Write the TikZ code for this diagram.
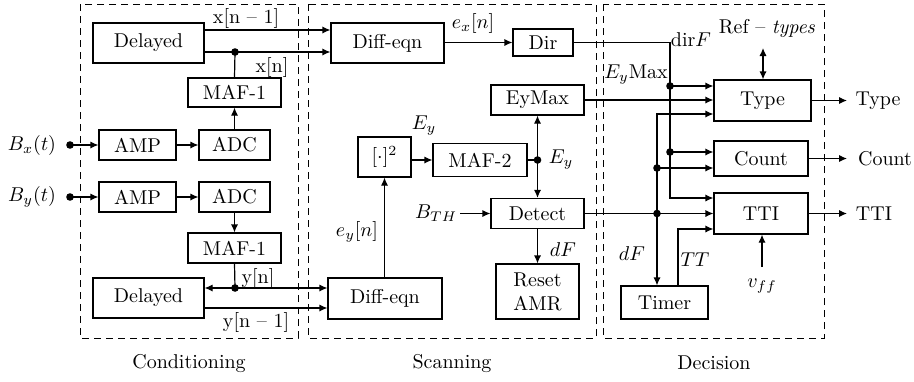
\documentclass[tikz,border=0pt]{standalone}
\usetikzlibrary{arrows.meta}
\begin{document}
\begin{tikzpicture}[x=0.5pt,y=-0.5pt,line width=0.6pt,
  font=\fontsize{10}{12}\selectfont,
  blk/.style={draw, inner sep=1pt, align=center},
  sz/.style 2 args={minimum width=#1*0.5pt, minimum height=#2*0.5pt},
  arr/.style={-{Latex[length=4pt,width=3.6pt]}},
  dbl/.style={{Latex[length=4pt,width=3.6pt]}-{Latex[length=4pt,width=3.6pt]}},
  dot/.style={circle, fill, inner sep=0pt, minimum size=3.8pt},
  frame/.style={draw, dash pattern=on 3.5pt off 2.5pt, line width=0.5pt},
  lbl/.style={inner sep=0pt}]
\useasboundingbox (0,0) rectangle (914,381);

% stage frames
\draw[frame] (80,4) rectangle (298,338);
\draw[frame] (308,4) rectangle (596,338);
\draw[frame] (603,4) rectangle (824,338);
\node[lbl] (tcond) at (189,363) {Conditioning};
\node[lbl] (tscan) at (452,363) {Scanning};
\node[lbl] (tdec) at (714,363) {Decision};

% conditioning blocks
\node[blk,sz={111}{40}] (del1) at (148.5,43) {Delayed};
\node[blk,sz={93}{29}] (maf1a) at (234.5,92.5) {MAF-1};
\node[blk,sz={77}{30}] (amp1) at (137.5,145) {AMP};
\node[blk,sz={71}{30}] (adc1) at (234.5,145) {ADC};
\node[blk,sz={77}{30}] (amp2) at (137.5,197) {AMP};
\node[blk,sz={71}{30}] (adc2) at (234.5,197) {ADC};
\node[blk,sz={93}{30}] (maf1b) at (234.5,248) {MAF-1};
\node[blk,sz={111}{40}] (del2) at (148.5,298) {Delayed};

% scanning blocks
\node[blk,sz={113}{40}] (diff1) at (387.5,43) {Diff-eqn};
\node[blk,sz={60}{27}] (dir) at (543,42.5) {Dir};
\node[blk,sz={93}{30}] (eymax) at (537.5,100) {EyMax};
\node[blk,sz={53}{40}] (sq) at (384.5,157) {$[\cdot]^2$};
\node[blk,sz={94}{33}] (maf2) at (480,160) {MAF-2};
\node[blk,sz={93}{30}] (detect) at (537.5,213.5) {Detect};
\node[blk,sz={83}{55}] (reset) at (537.5,291.5) {Reset\\AMR};
\node[blk,sz={114}{41}] (diff2) at (385,298.5) {Diff-eqn};

% decision blocks
\node[blk,sz={97}{41}] (type) at (762.5,100.5) {Type};
\node[blk,sz={94}{35}] (count) at (761,158.5) {Count};
\node[blk,sz={94}{41}] (tti) at (761,213.5) {TTI};
\node[blk,sz={87}{33}] (timer) at (664.5,302.5) {Timer};

% junction dots
\node[dot] (jbx) at (70,145) {};
\node[dot] (jby) at (70,197) {};
\node[dot] (jx) at (235,52) {};
\node[dot] (jy) at (235,288) {};
\node[dot] (je) at (537.5,160) {};
\node[dot] (jd1) at (670,86) {};
\node[dot] (jd2) at (670,152) {};
\node[dot] (jt1) at (657,168) {};
\node[dot] (jt2) at (657,213.5) {};

% free ends and bends
\coordinate (dcorner) at (670,42.5);
\coordinate (dbot) at (670,198);
\coordinate (ttop) at (657,114);
\coordinate (tc) at (678,229);
\coordinate (bth) at (460,213.5);
\coordinate (vff) at (762,267);
\coordinate (refb) at (763,48);
\coordinate (oT) at (847,100.5);
\coordinate (oC) at (847,158.5);
\coordinate (oI) at (847,213.5);

% conditioning connections
\draw[arr] (jbx.center) -- (amp1.west);
\draw[arr] (amp1) -- (adc1);
\draw[arr] (adc1) -- (maf1a);
\draw (maf1a.north) -- (jx.center);
\draw (jx.center -| del1.east) -- (jx.center);
\draw[arr] (jx.center) -- (jx -| diff1.west);
\draw[arr] ([yshift=6.5pt]del1.east) -- ([yshift=6.5pt]del1.east -| diff1.west);
\draw[arr] (jby.center) -- (amp2.west);
\draw[arr] (amp2) -- (adc2);
\draw[arr] (adc2) -- (maf1b);
\draw (maf1b.south) -- (jy.center);
\draw[arr] (jy.center) -- (jy -| del2.east);
\draw[arr] (jy.center) -- (jy -| diff2.west);
\draw[arr] ([yshift=-5pt]del2.east) -- ([yshift=-5pt]del2.east -| diff2.west);

% scanning connections
\draw[arr] (diff1.east |- dir.west) -- (dir.west);
\draw[arr] (sq.east |- maf2.west) -- (maf2.west);
\draw (maf2.east) -- (je.center);
\draw[arr] (je.center) -- (eymax.south);
\draw[arr] (je.center) -- (detect.north);
\draw[arr] (bth) -- (detect.west);
\draw[arr] (detect.south) -- (reset.north);
\draw[arr] (diff2.north -| sq.south) -- (sq.south);

% decision connections
\draw[arr] (dir.east) -- (dcorner) -- (dbot) -- (dbot -| tti.west);
\draw[arr] (jd1.center) -- (jd1 -| type.west);
\draw[arr] (jd2.center) -- (jd2 -| count.west);
\draw[arr] (eymax.east) -- (eymax.east -| type.west);
\draw[arr] (detect.east) -- (detect.east -| tti.west);
\draw[arr] (jt2.center) -- (ttop) -- (ttop -| type.west);
\draw[arr] (jt1.center) -- (jt1 -| count.west);
\draw[arr] (jt2.center) -- (jt2 |- timer.north);
\draw[arr] (timer.north -| tc) -- (tc) -- (tc -| tti.west);
\draw[arr] (vff) -- (vff |- tti.south);
\draw[dbl] (refb) -- (refb |- type.north);
\draw[arr] (type.east) -- (oT);
\draw[arr] (count.east) -- (oC);
\draw[arr] (tti.east) -- (oI);

% signal labels
\node[lbl] (lbx) at (32,145) {$B_x(t)$};
\node[lbl] (lby) at (32,197) {$B_y(t)$};
\node[lbl] (lxn1) at (246,18) {x[n -- 1]};
\node[lbl] (lxn) at (272,67) {x[n]};
\node[lbl] (lyn) at (258,278) {y[n]};
\node[lbl] (lyn1) at (256,322) {y[n -- 1]};
\node[lbl] (lex) at (473,23) {$e_x[n]$};
\node[lbl] (ley1) at (424,126) {$E_y$};
\node[lbl] (ley2) at (561,160) {$E_y$};
\node[lbl] (lbth) at (436,213) {$B_{TH}$};
\node[lbl] (ldf1) at (563,250) {$dF$};
\node[lbl] (leyn) at (357,232) {$e_y[n]$};
\node[lbl] (ldir) at (691,40) {dir$F$};
\node[lbl] (leym) at (636,75) {$E_y$Max};
\node[lbl] (lref) at (767,28) {Ref -- \textit{types}};
\node[lbl] (ldf2) at (632,254) {$dF$};
\node[lbl] (ltt) at (695,260) {$TT$};
\node[lbl] (lvff) at (762,286) {$v_{ff}$};
\node[lbl] (outT) at (878,100.5) {Type};
\node[lbl] (outC) at (885,158.5) {Count};
\node[lbl] (outI) at (874,213.5) {TTI};
\end{tikzpicture}
\end{document}
